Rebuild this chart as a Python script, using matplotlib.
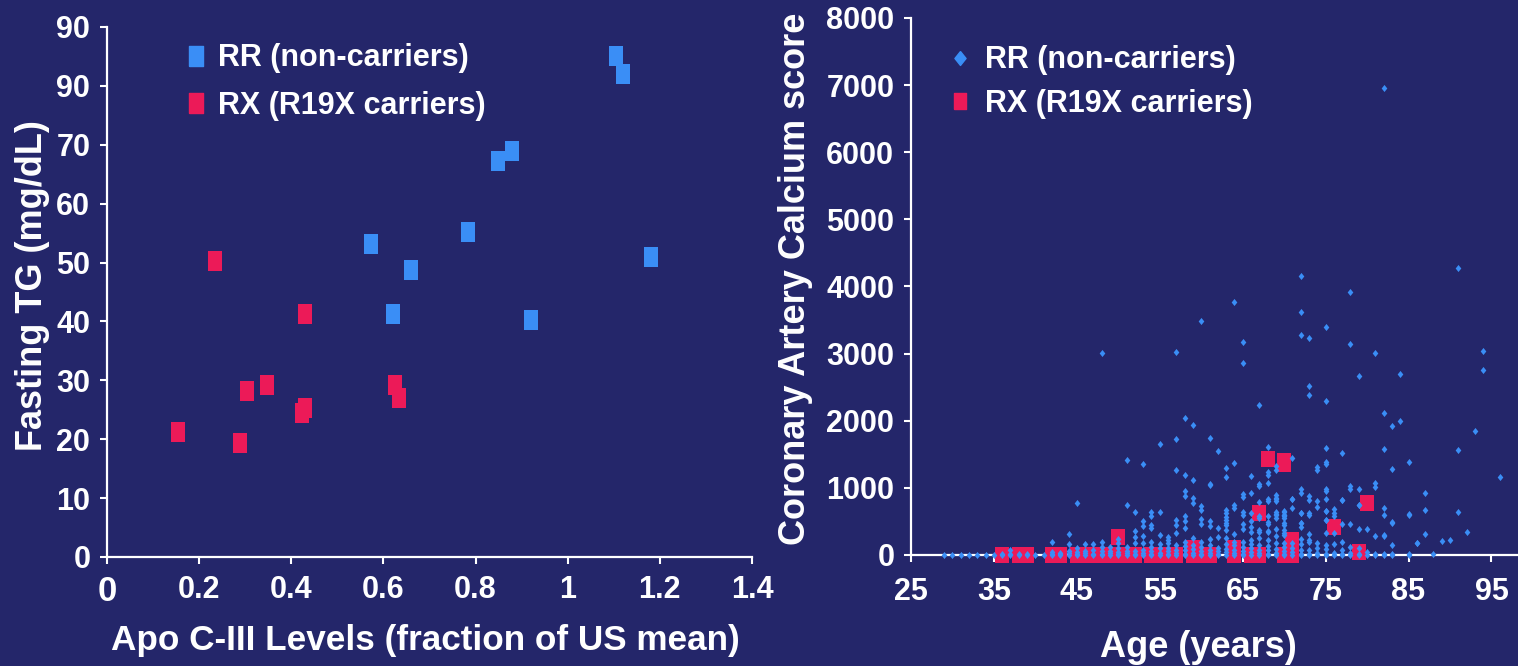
import matplotlib
matplotlib.use('Agg')
import matplotlib.pyplot as plt
from matplotlib.lines import Line2D
import numpy as np

plt.rcParams['font.family'] = ['Liberation Sans', 'DejaVu Sans']
plt.rcParams['font.weight'] = 'bold'

NAVY = '#24266a'
BLUE = '#3a8ef6'
RED = '#ec1a58'

# apo C-III vs fasting triglycerides
rr_apoc3 = [1.104, 1.12, 1.181, 0.920, 0.848, 0.878, 0.783, 0.572, 0.659, 0.62]
rr_tg = [85, 82, 51, 40.2, 67.3, 69, 55.1, 53.1, 48.8, 41.2]
rx_apoc3 = [0.235, 0.43, 0.154, 0.289, 0.304, 0.348, 0.43, 0.424, 0.626, 0.633]
rx_tg = [50.2, 41.2, 21.2, 19.3, 28.1, 29.2, 25.3, 24.4, 29.2, 27]
tg_ticks = [0, 10, 20, 30, 40, 50, 60, 70, 80, 90]
tg_ticklabels = ['0', '10', '20', '30', '40', '50', '60', '70', '90', '90']
apoc3_ticklabels = ['0', '0.2', '0.4', '0.6', '0.8', '1', '1.2', '1.4']

# coronary calcium by age, non-carriers (one list of scores per age)
rr_ages = [29, 30, 31, 32, 33, 34, 35, 36, 37, 38, 39, 40, 41, 42, 43, 44, 45,
           46, 47, 48, 49, 50, 51, 52, 53, 54, 55, 56, 57, 58, 59, 60, 61, 62,
           63, 64, 65, 66, 67, 68, 69, 70, 71, 72, 73, 74, 75, 76, 77, 78, 79,
           80, 81, 82, 83, 84, 85, 86, 87, 88, 89, 90, 91, 92, 93, 94, 96]
rr_scores = [
    [0], [0], [0], [0], [0], [0], [0],
    [0, 10],
    [0, 20, 75],
    [0, 10],
    [0, 15],
    [0],
    [0],
    [0, 20, 40, 194],
    [0, 15, 30],
    [0, 30, 60, 164, 308],
    [0, 20, 50, 100, 770],
    [0, 30, 60, 164],
    [0, 20, 80, 164],
    [0, 20, 60, 120, 200, 3015],
    [0, 25, 60, 124],
    [0, 20, 50, 100, 174, 234],
    [0, 30, 60, 120, 745, 1416],
    [0, 20, 60, 174, 263, 353, 636],
    [0, 30, 80, 184, 283, 432, 507, 1361],
    [0, 20, 60, 120, 200, 403, 452, 576, 645],
    [0, 30, 99, 170, 298, 635, 1654],
    [0, 20, 60, 100, 174, 224, 273],
    [0, 30, 80, 150, 323, 452, 522, 1262, 1724, 3025],
    [0, 20, 70, 130, 200, 397, 512, 581, 884, 959, 1196, 2046],
    [0, 30, 90, 150, 250, 775, 850, 1112, 1937],
    [0, 20, 60, 120, 200, 462, 541, 670, 735, 3492],
    [0, 30, 80, 150, 240, 437, 502, 1038, 1063, 1748],
    [0, 20, 60, 110, 273, 398, 1545],
    [0, 40, 90, 170, 250, 373, 447, 472, 521, 571, 631, 670, 1167, 1292],
    [0, 30, 80, 150, 200, 318, 700, 750, 1371, 3766],
    [0, 20, 60, 120, 200, 388, 467, 596, 636, 860, 904, 2866, 3180],
    [0, 40, 100, 160, 224, 343, 422, 502, 631, 929, 1172],
    [0, 30, 80, 150, 249, 348, 373, 551, 581, 795, 1025, 1063, 2240],
    [0, 20, 70, 140, 220, 338, 358, 462, 487, 586, 800, 835, 1068, 1190, 1237, 1614],
    [0, 30, 90, 180, 280, 383, 551, 601, 611, 645, 800, 830, 850, 894, 1271, 1331],
    [0, 20, 60, 120, 179, 303, 323, 373, 452, 482, 551, 581, 596, 601, 645, 651],
    [0, 40, 100, 180, 706, 830, 835, 1446],
    [0, 20, 80, 160, 240, 422, 472, 482, 626, 631, 930, 984, 3274, 3620, 4153],
    [0, 20, 70, 189, 229, 308, 596, 621, 820, 879, 2380, 2523, 3229],
    [0, 30, 99, 174, 710, 810, 1260, 1307],
    [0, 20, 89, 149, 323, 517, 521, 656, 661, 830, 950, 984, 1352, 1381, 1590, 2300, 3398],
    [0, 30, 164, 323, 581, 631, 686],
    [0, 20, 80, 199, 457, 820, 825, 1525],
    [0, 30, 120, 457, 990, 1033, 3150, 3925],
    [0, 20, 100, 387, 745, 750, 990, 2660],
    [0, 40, 387],
    [0, 20, 288, 1018, 1068, 3015],
    [0, 20, 288, 293, 601, 706, 1580, 2116, 6960],
    [0, 20, 149, 482, 487, 1277, 1918],
    [1997, 2697],
    [0, 10, 591, 606, 1386],
    [179, 184],
    [308, 666, 919],
    [20],
    [209],
    [229],
    [636, 1565, 4277],
    [348],
    [1843],
    [2760, 3045],
    [1167],
]

# R19X carriers
rx_age = [36, 38, 39, 42, 43, 45, 46, 47, 48, 49, 50, 50, 51, 52, 54, 55, 56,
          57, 59, 59, 60, 61, 64, 64, 66, 67, 67, 68, 70, 70, 70, 71, 71, 76,
          79, 80]
rx_cac = [0, 0, 0, 0, 0, 0, 0, 0, 0, 0, 0, 270, 0, 0, 0, 0, 0,
          0, 0, 100, 0, 0, 0, 100, 0, 0, 620, 1430, 0, 1400, 1350, 0, 230, 420,
          50, 770]

age_ticks = [25, 35, 45, 55, 65, 75, 85, 95]
cac_ticks = [0, 1000, 2000, 3000, 4000, 5000, 6000, 7000, 8000]

rr_label = 'RR (non-carriers)'
rx_label = 'RX (R19X carriers)'

TICK_FS = 22
LABEL_FS = 26
LEGEND_FS = 22


def rect(ratio):
    return [(-ratio, -1), (ratio, -1), (ratio, 1), (-ratio, 1), (-ratio, -1)]


tall_square = rect(0.667)
red_square = rect(0.8)
diamond = [(0, 1), (0.8, 0), (0, -1), (-0.8, 0), (0, 1)]


def style_axes(ax):
    ax.set_facecolor(NAVY)
    for side in ('top', 'right'):
        ax.spines[side].set_visible(False)
    for side in ('left', 'bottom'):
        ax.spines[side].set_color('white')
        ax.spines[side].set_linewidth(1.6)
    ax.tick_params(colors='white', labelsize=TICK_FS, length=5, width=1.5, pad=7)
    for lab in ax.get_xticklabels() + ax.get_yticklabels():
        lab.set_fontweight('bold')


def white_legend(leg):
    for t in leg.get_texts():
        t.set_color('white')
        t.set_fontweight('bold')


fig = plt.figure(figsize=(15.18, 6.66), dpi=100, facecolor=NAVY)

# left panel
ax1 = fig.add_axes([0.0705, 0.1637, 0.4249, 0.7958])
ax1.scatter(rr_apoc3, rr_tg, marker=tall_square, s=228, color=BLUE,
            linewidths=0, zorder=3, clip_on=False)
ax1.scatter(rx_apoc3, rx_tg, marker=tall_square, s=228, color=RED,
            linewidths=0, zorder=3, clip_on=False)
ax1.set_xlim(0, 1.4)
ax1.set_ylim(0, 90)
ax1.set_xticks(np.arange(0, 1.41, 0.2))
ax1.set_xticklabels(apoc3_ticklabels)
ax1.set_yticks(tg_ticks)
ax1.set_yticklabels(tg_ticklabels)
style_axes(ax1)
ax1.tick_params(axis='x', pad=8)
ax1.get_xticklabels()[0].set_fontsize(25)
ax1.set_xlabel('Apo C-III Levels (fraction of US mean)', color='white',
               fontsize=25.3, fontweight='bold', va='center')
ax1.xaxis.set_label_coords(0.493, -0.157)
ax1.set_ylabel('Fasting TG (mg/dL)', color='white', fontsize=LABEL_FS,
               fontweight='bold', va='center')
ax1.yaxis.set_label_coords(-0.115, 0.513)

h1 = [Line2D([], [], ls='none', marker=tall_square, markersize=15.1,
             color=BLUE, label=rr_label),
      Line2D([], [], ls='none', marker=tall_square, markersize=15.1,
             color=RED, label=rx_label)]
leg1 = ax1.legend(handles=h1, loc='upper left', bbox_to_anchor=(0.119, 0.935),
                  bbox_transform=fig.transFigure, frameon=False,
                  fontsize=LEGEND_FS, handlelength=1.0, handletextpad=0.22,
                  labelspacing=0.57, borderpad=0, borderaxespad=0)
white_legend(leg1)

# right panel
ax2 = fig.add_axes([0.6001, 0.1667, 0.3999, 0.8063])
rr_counts = [len(v) for v in rr_scores]
rr_x = np.repeat(rr_ages, rr_counts)
rr_y = np.concatenate(rr_scores)
ax2.scatter(rx_age, rx_cac, marker=red_square, s=140, color=RED,
            linewidths=0, zorder=3, clip_on=False)
ax2.scatter(rr_x, rr_y, marker=diamond, s=26, color=BLUE,
            linewidths=0, zorder=4, clip_on=False)
ax2.set_xlim(25, 98.2)
ax2.set_ylim(0, 8000)
ax2.set_xticks(age_ticks)
ax2.set_yticks(cac_ticks)
style_axes(ax2)
ax2.tick_params(axis='x', pad=11)
ax2.set_xlabel('Age (years)', color='white', fontsize=LABEL_FS,
               fontweight='bold', va='center')
ax2.xaxis.set_label_coords(0.473, -0.173)
ax2.set_ylabel('Coronary Artery Calcium score', color='white',
               fontsize=LABEL_FS, fontweight='bold', va='center')
ax2.yaxis.set_label_coords(-0.191, 0.514)

h2 = [Line2D([], [], ls='none', marker=diamond, markersize=10,
             color=BLUE, label=rr_label),
      Line2D([], [], ls='none', marker=red_square, markersize=11.5,
             color=RED, label=rx_label)]
leg2 = ax2.legend(handles=h2, loc='upper left', bbox_to_anchor=(0.6223, 0.932),
                  bbox_transform=fig.transFigure, frameon=False,
                  fontsize=LEGEND_FS, handlelength=1.0, handletextpad=0.32,
                  labelspacing=0.44, borderpad=0, borderaxespad=0)
white_legend(leg2)

fig.savefig('out.png', dpi=100, facecolor=NAVY)
